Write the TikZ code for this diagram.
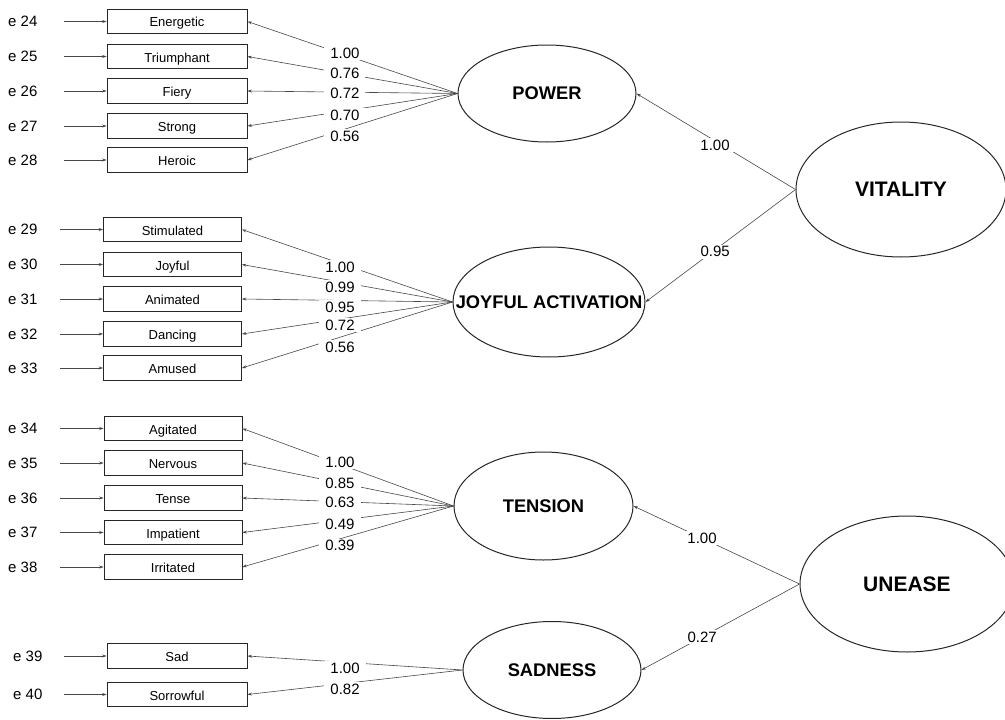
\documentclass[tikz,border=0pt]{standalone}
\usepackage{fontspec}
\setmainfont{Liberation Sans}
\usetikzlibrary{shapes.geometric,arrows.meta}
\begin{document}
\begin{tikzpicture}[x=1pt,y=-1pt,
  item/.style={draw=black!85, line width=0.8pt, rectangle, minimum width=140pt,
    minimum height=24.5pt, inner sep=0pt, text height=11pt, text depth=0pt,
    font=\fontsize{13}{15}\selectfont},
  itemb/.style={item, minimum width=138pt},
  err/.style={anchor=west, inner sep=0pt, font=\fontsize{15}{17}\selectfont},
  factor/.style={draw=black!85, line width=1pt, ellipse, inner sep=0pt,
    font=\bfseries\fontsize{18.3}{21}\selectfont},
  higher/.style={factor, font=\bfseries\fontsize{21}{24}\selectfont},
  link/.style={draw=black!72, line width=0.6pt, -{Stealth[length=4.5pt,width=3pt]}},
  coef/.style={fill=white, inner xsep=6pt, inner ysep=1.5pt, font=\fontsize{15}{17}\selectfont},
]
\useasboundingbox (0,0) rectangle (1005,720);

% ---------- latent factors ----------
\node[factor, minimum width=178pt, minimum height=97pt]  (power)   at (547,93.5) {POWER};
\node[factor, minimum width=192pt, minimum height=110pt] (joyful)  at (549,302)  {\makebox[0pt]{JOYFUL ACTIVATION}};
\node[factor, minimum width=179pt, minimum height=108pt] (tension) at (543.5,506) {TENSION};
\node[factor, minimum width=178pt, minimum height=97pt]  (sadness) at (552,670)  {SADNESS};
\node[higher, minimum width=210pt, minimum height=135pt] (vitality) at (901,189.5) {VITALITY};
\node[higher, minimum width=214pt, minimum height=136pt] (unease)   at (907,584)  {UNEASE};

% ---------- indicators: POWER ----------
\node[item] (energetic)  at (177,21.5) {Energetic};
\node[item] (triumphant) at (177,56.5) {Triumphant};
\node[item] (fiery)      at (177,91)   {Fiery};
\node[item] (strong)     at (177,126)  {Strong};
\node[item] (heroic)     at (177,160)  {Heroic};

% ---------- indicators: JOYFUL ACTIVATION ----------
\node[itemb] (stimulated) at (172.5,229.5) {Stimulated};
\node[itemb] (joy)        at (172.5,264.5) {Joyful};
\node[itemb] (animated)   at (172.5,299)   {Animated};
\node[itemb] (dancing)    at (172.5,334)   {Dancing};
\node[itemb] (amused)     at (172.5,368)   {Amused};

% ---------- indicators: TENSION ----------
\node[itemb] (agitated)  at (173,428.5) {Agitated};
\node[itemb] (nervous)   at (173,463)   {Nervous};
\node[itemb] (tense)     at (173,498)   {Tense};
\node[itemb] (impatient) at (173,532.5) {Impatient};
\node[itemb] (irritated) at (173,567)   {Irritated};

% ---------- indicators: SADNESS ----------
\node[item] (sad)       at (177,656)   {Sad};
\node[item] (sorrowful) at (177,694.5) {Sorrowful};

% ---------- error terms ----------
\node[err] (e24) at (8,21.5) {e 24};
\node[err] (e25) at (8,56.5) {e 25};
\node[err] (e26) at (8,91)   {e 26};
\node[err] (e27) at (8,126)  {e 27};
\node[err] (e28) at (8,160)  {e 28};
\node[err] (e29) at (8,229.5) {e 29};
\node[err] (e30) at (8,264.5) {e 30};
\node[err] (e31) at (8,299)   {e 31};
\node[err] (e32) at (8,334)   {e 32};
\node[err] (e33) at (8,368)   {e 33};
\node[err] (e34) at (8,428.5) {e 34};
\node[err] (e35) at (8,463)   {e 35};
\node[err] (e36) at (8,498)   {e 36};
\node[err] (e37) at (8,532.5) {e 37};
\node[err] (e38) at (8,567)   {e 38};
\node[err] (e39) at (13,656)   {e 39};
\node[err] (e40) at (13,694.5) {e 40};

\foreach \e/\v in {e24/energetic,e25/triumphant,e26/fiery,e27/strong,e28/heroic}
  \draw[link, shorten <=26.5pt] (\e.east) -- (\v.west);
\foreach \e/\v in {e29/stimulated,e30/joy,e31/animated,e32/dancing,e33/amused,
                   e34/agitated,e35/nervous,e36/tense,e37/impatient,e38/irritated}
  \draw[link, shorten <=22.5pt] (\e.east) -- (\v.west);
\foreach \e/\v in {e39/sad,e40/sorrowful}
  \draw[link, shorten <=21.5pt] (\e.east) -- (\v.west);

% ---------- loadings (label spots kept as coordinates) ----------
\draw[link] (power.west) -- coordinate[pos=.536] (p1) (energetic.east);
\draw[link] (power.west) -- coordinate[pos=.536] (p2) (triumphant.east);
\draw[link] (power.west) -- coordinate[pos=.536] (p3) (fiery.east);
\draw[link] (power.west) -- coordinate[pos=.536] (p4) (strong.east);
\draw[link] (power.west) -- coordinate[pos=.536] (p5) (heroic.east);

\draw[link] (joyful.west) -- coordinate[pos=.534] (j1) (stimulated.east);
\draw[link] (joyful.west) -- coordinate[pos=.534] (j2) (joy.east);
\draw[link] (joyful.west) -- coordinate[pos=.534] (j3) (animated.east);
\draw[link] (joyful.west) -- coordinate[pos=.534] (j4) (dancing.east);
\draw[link] (joyful.west) -- coordinate[pos=.534] (j5) (amused.east);

\draw[link] (tension.west) -- coordinate[pos=.538] (t1) (agitated.east);
\draw[link] (tension.west) -- coordinate[pos=.538] (t2) (nervous.east);
\draw[link] (tension.west) -- coordinate[pos=.538] (t3) (tense.east);
\draw[link] (tension.west) -- coordinate[pos=.538] (t4) (impatient.east);
\draw[link] (tension.west) -- coordinate[pos=.538] (t5) (irritated.east);

\draw[link] (sadness.west) -- coordinate[pos=.546] (s1) (sad.east);
\draw[link] (sadness.west) -- coordinate[pos=.546] (s2) (sorrowful.east);

% ---------- second-order paths ----------
\draw[link] (vitality.west) -- coordinate[pos=.506] (v1) (power.east);
\draw[link] (vitality.west) -- coordinate[pos=.536] (v2) (joyful.east);
\draw[link] (unease.west) -- coordinate[pos=.587] (u1) (tension.east);
\draw[link] (unease.west) -- coordinate[pos=.616] (u2) (sadness.east);

% ---------- coefficients, drawn over all paths ----------
\node[coef, yshift=2pt]    (cp1) at (p1) {1.00};
\node[coef]                (cp2) at (p2) {0.76};
\node[coef, yshift=-1pt]   (cp3) at (p3) {0.72};
\node[coef, yshift=-4pt]   (cp4) at (p4) {0.70};
\node[coef, yshift=-7pt]   (cp5) at (p5) {0.56};

\node[coef, yshift=-4pt]   (cj1) at (j1) {1.00};
\node[coef, yshift=-5pt]   (cj2) at (j2) {0.99};
\node[coef, yshift=-6.5pt] (cj3) at (j3) {0.95};
\node[coef, yshift=-6pt]   (cj4) at (j4) {0.72};
\node[coef, yshift=-10pt]  (cj5) at (j5) {0.56};

\node[coef, yshift=2pt]    (ct1) at (t1) {1.00};
\node[coef]                (ct2) at (t2) {0.85};
\node[coef, yshift=-1pt]   (ct3) at (t3) {0.63};
\node[coef, yshift=-4pt]   (ct4) at (t4) {0.49};
\node[coef, yshift=-7pt]   (ct5) at (t5) {0.39};

\node[coef, yshift=-5.5pt] (cs1) at (s1) {1.00};
\node[coef, yshift=-5.5pt] (cs2) at (s2) {0.82};

\node[coef, yshift=-4pt]   (cv1) at (v1) {1.00};
\node[coef, yshift=-2pt]   (cv2) at (v2) {0.95};
\node[coef]                (cu1) at (u1) {1.00};
\node[coef]                (cu2) at (u2) {0.27};
\end{tikzpicture}
\end{document}
